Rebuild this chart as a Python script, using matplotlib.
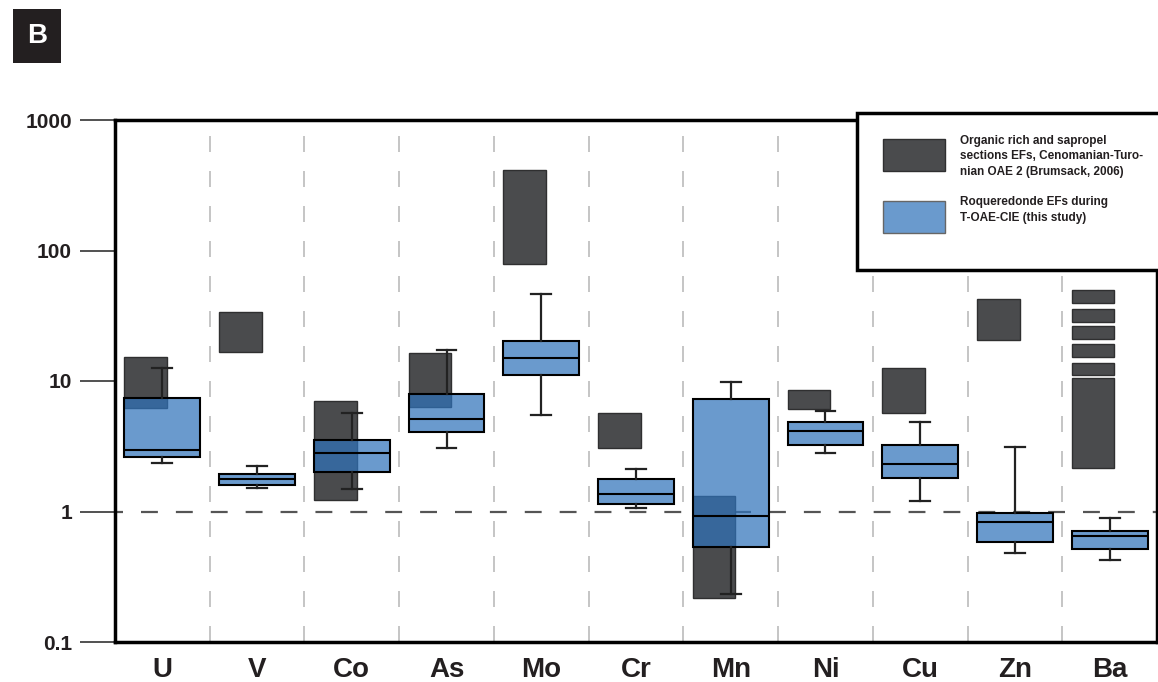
import matplotlib
matplotlib.use("Agg")
import matplotlib.pyplot as plt
import numpy as np
from matplotlib.patches import Rectangle
from matplotlib.ticker import NullLocator

plt.rcParams['font.family'] = ['Liberation Sans', 'DejaVu Sans']

elements = ['U', 'V', 'Co', 'As', 'Mo', 'Cr', 'Mn', 'Ni', 'Cu', 'Zn', 'Ba']

# Brumsack (2006) ranges, OAE 2 (Ba drawn separately as stacked segments)
ref_low = [6.24, 16.7, 1.22, 6.35, 79.2, 3.05, 0.219, 6.14, 5.65, 20.6]
ref_high = [15.4, 33.8, 6.99, 16.5, 414, 5.72, 1.31, 8.53, 12.5, 42.7]
ba_low = [2.17, 11.1, 15.4, 21.1, 28.5, 39.8]
ba_high = [10.6, 13.8, 19.3, 26.4, 35.6, 49.8]

# Roqueredonde EFs (this study), box plot stats
whis_lo = [2.34, 1.51, 1.48, 3.08, 5.49, 1.06, 0.233, 2.82, 1.21, 0.483, 0.427]
q1 = [2.63, 1.60, 2.00, 4.05, 11.2, 1.14, 0.532, 3.25, 1.80, 0.587, 0.519]
med = [2.96, 1.77, 2.79, 5.09, 14.9, 1.36, 0.924, 4.16, 2.31, 0.826, 0.649]
q3 = [7.45, 1.94, 3.53, 7.91, 20.3, 1.78, 7.32, 4.85, 3.25, 0.98, 0.713]
whis_hi = [12.6, 2.24, 5.65, 17.2, 46.4, 2.12, 9.83, 5.92, 4.83, 3.10, 0.887]

gray = '#4a4b4d'
blue_face = (0.19, 0.45, 0.73, 0.72)

fig = plt.figure(figsize=(11.58, 6.82), dpi=100)
ax = fig.add_axes([115 / 1158, 40 / 682, 1042 / 1158, 522 / 682])

x = np.arange(len(elements))

# reference ranges
ax.bar(x[:10] - 0.4, np.array(ref_high) - np.array(ref_low), bottom=ref_low,
       width=0.45, align='edge', color=gray, edgecolor='#2f2f30', linewidth=1, zorder=2)
ax.bar(np.full(len(ba_low), x[10] - 0.4), np.array(ba_high) - np.array(ba_low), bottom=ba_low,
       width=0.45, align='edge', color=gray, edgecolor='#2f2f30', linewidth=1, zorder=2)

# this study
stats = []
for i in range(len(elements)):
    stats.append(dict(whislo=whis_lo[i], q1=q1[i], med=med[i], q3=q3[i], whishi=whis_hi[i]))
ax.bxp(stats, positions=x, widths=0.8, patch_artist=True, showfliers=False,
       capwidths=0.21, manage_ticks=False,
       boxprops=dict(facecolor=blue_face, edgecolor='black', linewidth=1.5),
       medianprops=dict(color='black', linewidth=1.5),
       whiskerprops=dict(color='#222222', linewidth=1.6),
       capprops=dict(color='#222222', linewidth=1.6), zorder=3)

ax.axhline(1, color='#555555', linewidth=1.6, linestyle=(4, (7.6, 8.1)), zorder=1)

ax.set_yscale('log')
ax.set_ylim(0.1, 1000)
ax.set_xlim(-0.5, 10.5)
ax.set_yticks([0.1, 1, 10, 100, 1000])
ax.set_yticklabels(['0.1', '1', '10', '100', '1000'], fontsize=15, fontweight='bold', color='#231f20')
ax.yaxis.set_minor_locator(NullLocator())
ax.tick_params(axis='y', which='major', direction='out', length=25, width=1.2, color='#333333', pad=6)

ax.set_xticks(x)
ax.set_xticklabels(elements, fontsize=20, fontweight='bold', color='#231f20')
ax.tick_params(axis='x', which='major', length=0, pad=11)
ax.set_xticks(np.arange(0.5, 10.5), minor=True)
ax.tick_params(axis='x', which='minor', length=0)
ax.grid(which='minor', axis='x', color='#bbbbbb', linewidth=1.2, linestyle=(0, (9.6, 11.4)), zorder=0)
ax.set_axisbelow(True)

for s in ax.spines.values():
    s.set_linewidth(2.5)
    s.set_color('black')

# legend box
ax.add_patch(Rectangle((0.712, 0.713), 0.3, 0.3, transform=ax.transAxes, facecolor='white',
                       edgecolor='black', linewidth=2.5, clip_on=False, zorder=5))
ax.add_patch(Rectangle((0.737, 0.902), 0.0595, 0.0613, transform=ax.transAxes, facecolor=gray,
                       edgecolor='#2f2f30', linewidth=1, clip_on=False, zorder=6))
ax.add_patch(Rectangle((0.737, 0.7835), 0.0595, 0.0613, transform=ax.transAxes, facecolor=blue_face,
                       edgecolor='#666666', linewidth=1, clip_on=False, zorder=6))
ax.text(0.811, 0.972, 'Organic rich and sapropel\nsections EFs, Cenomanian-Turo-\nnian OAE 2 (Brumsack, 2006)',
        transform=ax.transAxes, ha='left', va='top', fontsize=8.5, fontweight='bold',
        color='#231f20', linespacing=1.4, zorder=7)
ax.text(0.811, 0.854, 'Roqueredonde EFs during\nT-OAE-CIE (this study)',
        transform=ax.transAxes, ha='left', va='top', fontsize=8.5, fontweight='bold',
        color='#231f20', linespacing=1.4, zorder=7)

# panel letter
fig.text(37 / 1158, 1 - 36 / 682, 'B', ha='center', va='center', fontsize=20, fontweight='bold',
         color='white', bbox=dict(boxstyle='square,pad=0.52', facecolor='#231f20', edgecolor='none'))

fig.savefig('out.png', dpi=100)
